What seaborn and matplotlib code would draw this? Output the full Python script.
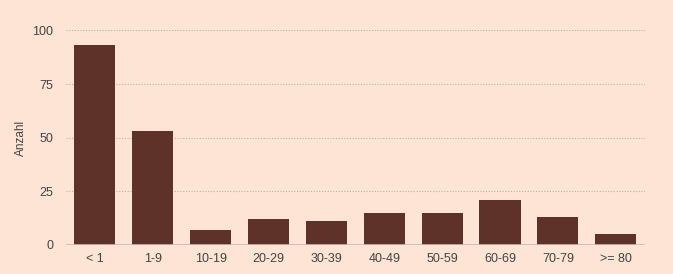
import matplotlib
matplotlib.use("Agg")
import matplotlib.pyplot as plt
import seaborn as sns
import pandas as pd

categories = ["< 1", "1-9", "10-19", "20-29", "30-39", "40-49", "50-59", "60-69", "70-79", ">= 80"]
counts = [93, 53, 7, 12, 11, 15, 15, 21, 13, 5]
yticks = [0, 25, 50, 75, 100]
ylabel = "Anzahl"

bg = "#FDE4D4"
bar_color = "#5E3129"
text_color = "#444444"

sns.set_theme(style="white")
plt.rcParams['font.family'] = ['Liberation Sans', 'DejaVu Sans']

df = pd.DataFrame({"cat": categories, "n": counts})

fig = plt.figure(figsize=(6.73, 2.74), dpi=100, facecolor=bg)
ax = fig.add_axes([0.098, 0.106, 0.860, 0.783])
ax.set_facecolor(bg)

sns.barplot(data=df, x="cat", y="n", color=bar_color, saturation=1, width=0.71,
            ax=ax, order=categories, linewidth=0, edgecolor=bar_color)

ax.set_xlim(-0.5, len(categories) - 0.5)
ax.set_ylim(0, 100)
ax.set_yticks(yticks)
for y in yticks[1:]:
    ax.axhline(y, color="#b8b0aa", linestyle=(0, (1, 1.5)), linewidth=0.8, zorder=0)
ax.axhline(0, color="#c8bcb4", linewidth=1.2, zorder=3)

for s in ax.spines.values():
    s.set_visible(False)

ax.tick_params(axis="both", length=0, labelsize=9, colors=text_color, pad=9)
ax.tick_params(axis="x", pad=6)
ax.set_xlabel("")
ax.set_ylabel(ylabel, fontsize=8.5, color=text_color, labelpad=4)

fig.savefig("out.png", dpi=100, facecolor=bg)
